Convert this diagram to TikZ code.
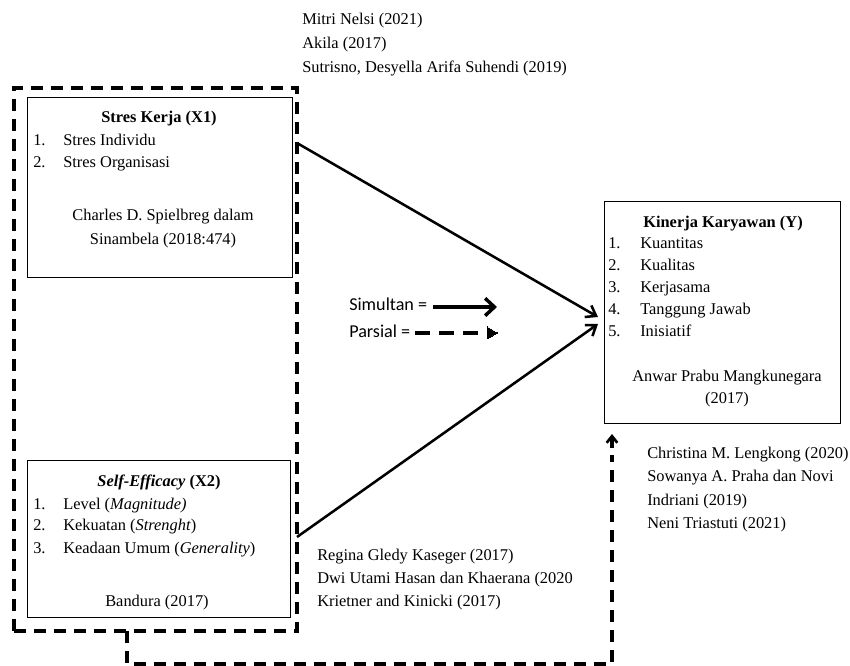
\documentclass[tikz,border=0pt]{standalone}
\usepackage{fontspec}
\setmainfont{Liberation Serif}
\newfontfamily\legendfont{Carlito}
\usetikzlibrary{arrows.meta}
\begin{document}
\begin{tikzpicture}[x=0.75pt,y=-0.75pt,
  box/.style={draw,line width=0.8pt,inner sep=0pt,anchor=north west},
  txt/.style={inner sep=0pt,anchor=base west,font=\fontsize{12.3}{15}\selectfont},
  ctxt/.style={inner sep=0pt,anchor=base,font=\fontsize{12.3}{15}\selectfont},
  bigdash/.style={line width=2.3pt,dash pattern=on 9pt off 6pt},
  solidarrow/.style={line width=1.9pt,-{Straight Barb[length=7pt,width=10pt,line width=1.9pt]}}]
\useasboundingbox (0,0) rectangle (850,666);

% outer dashed group
\draw[bigdash] (14,631) -- (14,88) -- (297,88) -- (297,631) -- cycle;

% boxes
\node[box,minimum width=265*0.75pt,minimum height=180*0.75pt] (x1) at (27,97) {};
\node[box,minimum width=263*0.75pt,minimum height=157*0.75pt] (x2) at (27,460) {};
\node[box,minimum width=236*0.75pt,minimum height=222*0.75pt] (y) at (604,201) {};

% X1 text
\node[ctxt] (x1t) at (159,123) {\textbf{Stres Kerja (X1)}};
\node[txt] (x1n1) at (33,146) {1.};
\node[txt] (x1i1) at (63,146) {Stres Individu};
\node[txt] (x1n2) at (33,168) {2.};
\node[txt] (x1i2) at (63,168) {Stres Organisasi};
\node[ctxt] (x1r1) at (163,221) {Charles D. Spielbreg dalam};
\node[ctxt] (x1r2) at (163,245) {Sinambela (2018:474)};

% X2 text
\node[ctxt] (x2t) at (159,487) {\textbf{\textit{Self-Efficacy} (X2)}};
\node[txt] (x2n1) at (33,509) {1.};
\node[txt] (x2i1) at (63,509) {Level (\textit{Magnitude)}};
\node[txt] (x2n2) at (33,531) {2.};
\node[txt] (x2i2) at (63,531) {Kekuatan (\textit{Strenght})};
\node[txt] (x2n3) at (33,553) {3.};
\node[txt] (x2i3) at (63,553) {Keadaan Umum (\textit{Generality})};
\node[ctxt] (x2r) at (157,606) {Bandura (2017)};

% Y text
\node[ctxt] (yt) at (723,228) {\textbf{Kinerja Karyawan (Y)}};
\node[txt] (yn1) at (608,249) {1.};
\node[txt] (yi1) at (640,249) {Kuantitas};
\node[txt] (yn2) at (608,271) {2.};
\node[txt] (yi2) at (640,271) {Kualitas};
\node[txt] (yn3) at (608,293) {3.};
\node[txt] (yi3) at (640,293) {Kerjasama};
\node[txt] (yn4) at (608,315) {4.};
\node[txt] (yi4) at (640,315) {Tanggung Jawab};
\node[txt] (yn5) at (608,337) {5.};
\node[txt] (yi5) at (640,337) {Inisiatif};
\node[ctxt] (yr1) at (727,382) {Anwar Prabu Mangkunegara};
\node[ctxt] (yr2) at (727,404) {(2017)};

% reference texts
\node[txt] (ref1a) at (302,25) {Mitri Nelsi (2021)};
\node[txt] (ref1b) at (302,49) {Akila (2017)};
\node[txt] (ref1c) at (302,73) {Sutrisno, Desyella Arifa Suhendi (2019)};

\node[txt] (ref2a) at (317,560) {Regina Gledy Kaseger (2017)};
\node[txt] (ref2b) at (317,583) {Dwi Utami Hasan dan Khaerana (2020};
\node[txt] (ref2c) at (317,606) {Krietner and Kinicki (2017)};

\node[txt] (ref3a) at (647,459) {Christina M. Lengkong (2020)};
\node[txt] (ref3b) at (647,482) {Sowanya A. Praha dan Novi};
\node[txt] (ref3c) at (647,505) {Indriani (2019)};
\node[txt] (ref3d) at (647,528) {Neni Triastuti (2021)};

% connectors
\coordinate (s1) at (297,143);
\coordinate (e1) at (598,317);
\coordinate (s2) at (297,537);
\coordinate (e2) at (598,324);
\draw[solidarrow] (s1) -- (e1);
\draw[solidarrow] (s2) -- (e2);

\coordinate (d0) at (127,631);
\coordinate (d1) at (127,664);
\coordinate (d2) at (612,664);
\coordinate (d3) at (612,434);
\draw[bigdash] (d0) -- (d1) -- (d2) -- (612,455);
\draw[line width=2.3pt,-{Straight Barb[length=5pt,width=8pt,line width=2pt]}] (612,448) -- (d3);

% legend
\node[inner sep=0pt,anchor=base west,font=\legendfont\fontsize{13.6}{16}\selectfont] (ls) at (349,311) {Simultan =};
\node[inner sep=0pt,anchor=base west,font=\legendfont\fontsize{13.6}{16}\selectfont] (lp) at (349,338) {Parsial =};
\coordinate (la) at (433,307);
\coordinate (lb) at (497,307);
\draw[line width=3pt,-{Straight Barb[length=7pt,width=13pt,line width=2.6pt]}] (la) -- (lb);
\coordinate (lc) at (415,333);
\coordinate (ld) at (480,333);
\draw[line width=3pt,dash pattern=on 11pt off 7pt] (lc) -- (ld);
\draw[line width=0pt,fill=black] (487,327) -- (497,333) -- (487,339) -- cycle;
\end{tikzpicture}
\end{document}
